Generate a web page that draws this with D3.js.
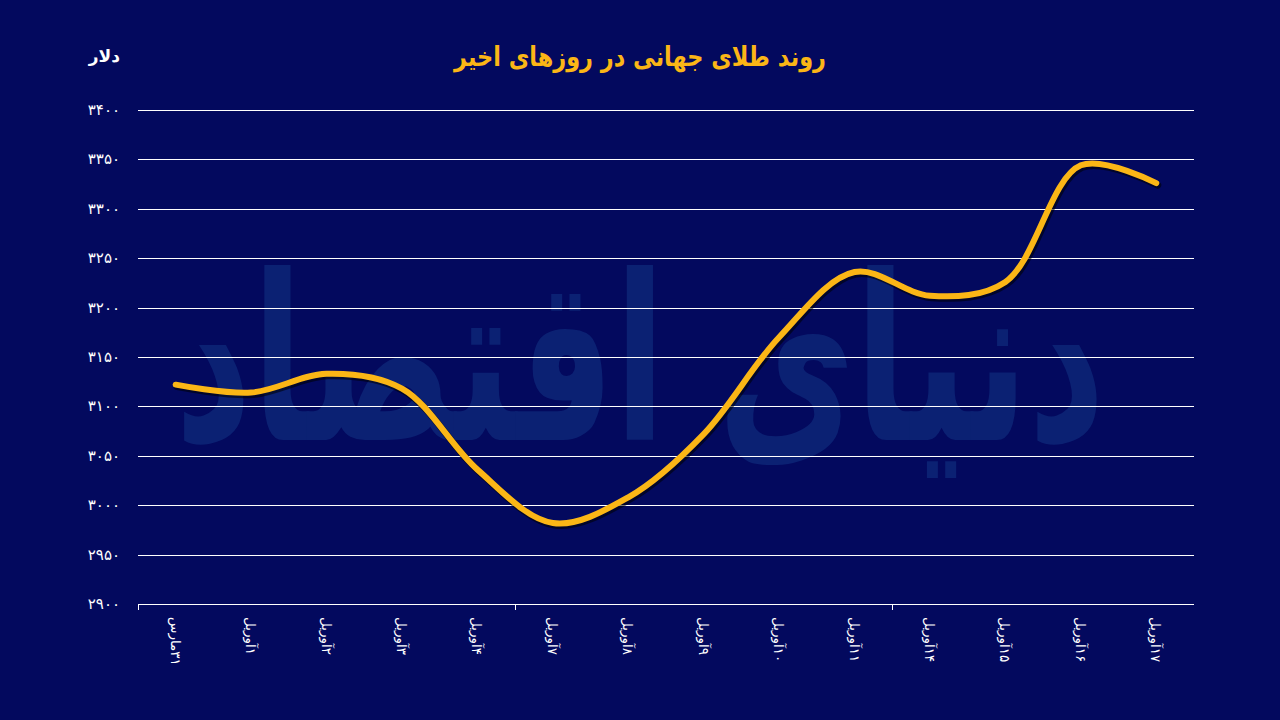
<!DOCTYPE html>
<html>
<head>
<meta charset="utf-8">
<script src="https://cdn.jsdelivr.net/npm/d3@7"></script>
<style>
  html, body { margin: 0; padding: 0; background: #03095e; }
  svg { display: block; }
</style>
</head>
<body>
<svg id="chart" width="1280" height="720"></svg>
<script>
const title = "روند طلای جهانی در روزهای اخیر";
const unitLabel = "دلار";
const watermark = "دنیای اقتصاد";
const categories = ["۳۱مارس","۱آوریل","۲آوریل","۳آوریل","۴آوریل","۷آوریل","۸آوریل","۹آوریل","۱۰آوریل","۱۱آوریل","۱۴آوریل","۱۵آوریل","۱۶آوریل","۱۷آوریل"];
const prices = [3122, 3114, 3133, 3118, 3036, 2982, 3008, 3072, 3170, 3236, 3212, 3226, 3344, 3326];
const yTicks = [2900, 2950, 3000, 3050, 3100, 3150, 3200, 3250, 3300, 3350, 3400];

const W = 1280, H = 720;
const margin = {left: 138, right: 86, top: 110, bottom: 116};
const svg = d3.select("#chart");
const faDigits = s => String(s).replace(/[0-9]/g, d => "۰۱۲۳۴۵۶۷۸۹"[+d]);

svg.append("rect").attr("width", W).attr("height", H).attr("fill", "#03095e");

// watermark (scaled horizontally to fit the plot)
const wmG = svg.append("g");
const wm = wmG.append("text")
  .attr("x", 0).attr("y", 0)
  .attr("text-anchor", "middle")
  .attr("font-family", "DejaVu Sans")
  .attr("font-weight", "bold")
  .attr("font-size", 230)
  .attr("fill", "#123585")
  .attr("opacity", 0.55)
  .text(watermark);
const wmWidth = wm.node().getComputedTextLength() || 930;
wmG.attr("transform", `translate(640,440) scale(${930 / wmWidth},1)`);

const x = d3.scaleBand().domain(categories).range([margin.left, W - margin.right]).padding(0);
const y = d3.scaleLinear().domain([2900, 3400]).range([H - margin.bottom, margin.top]);

// gridlines
svg.append("g").selectAll("line").data(yTicks.slice(1)).join("line")
  .attr("x1", margin.left).attr("x2", W - margin.right)
  .attr("y1", d => Math.round(y(d)) + 0.5).attr("y2", d => Math.round(y(d)) + 0.5)
  .attr("stroke", "#ffffff").attr("stroke-width", 1);

// x axis line
svg.append("line")
  .attr("x1", margin.left).attr("x2", W - margin.right)
  .attr("y1", Math.round(y(2900)) + 0.5).attr("y2", Math.round(y(2900)) + 0.5)
  .attr("stroke", "#ffffff").attr("stroke-width", 1);

// x ticks at every 5th band boundary
svg.append("g").selectAll("line").data(categories.filter((c, i) => i % 5 === 0)).join("line")
  .attr("x1", d => Math.round(x(d)) + 0.5).attr("x2", d => Math.round(x(d)) + 0.5)
  .attr("y1", y(2900)).attr("y2", y(2900) + 6)
  .attr("stroke", "#ffffff").attr("stroke-width", 1);

// y labels
svg.append("g").selectAll("text").data(yTicks).join("text")
  .attr("x", 120).attr("y", d => y(d) + 5)
  .attr("text-anchor", "end")
  .attr("font-family", "DejaVu Sans")
  .attr("font-size", 15)
  .attr("fill", "#ffffff")
  .text(d => faDigits(d));

svg.append("text")
  .attr("x", 120).attr("y", 62)
  .attr("text-anchor", "end")
  .attr("font-family", "DejaVu Sans")
  .attr("font-weight", "bold")
  .attr("font-size", 17)
  .attr("fill", "#ffffff")
  .text(unitLabel);

// x labels rotated
svg.append("g").selectAll("text").data(categories).join("text")
  .attr("transform", d => `translate(${x(d) + x.bandwidth() / 2 - 5},${y(2900) + 13}) rotate(90)`)
  .attr("direction", "rtl")
  .attr("text-anchor", "end")
  .attr("font-family", "DejaVu Sans")
  .attr("font-size", 13.5)
  .attr("fill", "#ffffff")
  .text(d => d);

// line
const line = d3.line()
  .x((d, i) => x(categories[i]) + x.bandwidth() / 2)
  .y(d => y(d))
  .curve(d3.curveCatmullRom.alpha(0.5));

svg.append("path").datum(prices)
  .attr("d", line)
  .attr("transform", "translate(1.5,2)")
  .attr("fill", "none")
  .attr("stroke", "#000000").attr("stroke-opacity", 0.55)
  .attr("stroke-width", 7).attr("stroke-linecap", "round").attr("stroke-linejoin", "round");

svg.append("path").datum(prices)
  .attr("d", line)
  .attr("fill", "none")
  .attr("stroke", "#fbb616")
  .attr("stroke-width", 6).attr("stroke-linecap", "round").attr("stroke-linejoin", "round");

// title
svg.append("text")
  .attr("x", 640).attr("y", 66)
  .attr("text-anchor", "middle")
  .attr("font-family", "DejaVu Sans")
  .attr("font-weight", "bold")
  .attr("font-size", 27)
  .attr("textLength", 372)
  .attr("lengthAdjust", "spacingAndGlyphs")
  .attr("fill", "#fbb616")
  .text(title);
</script>
</body>
</html>
